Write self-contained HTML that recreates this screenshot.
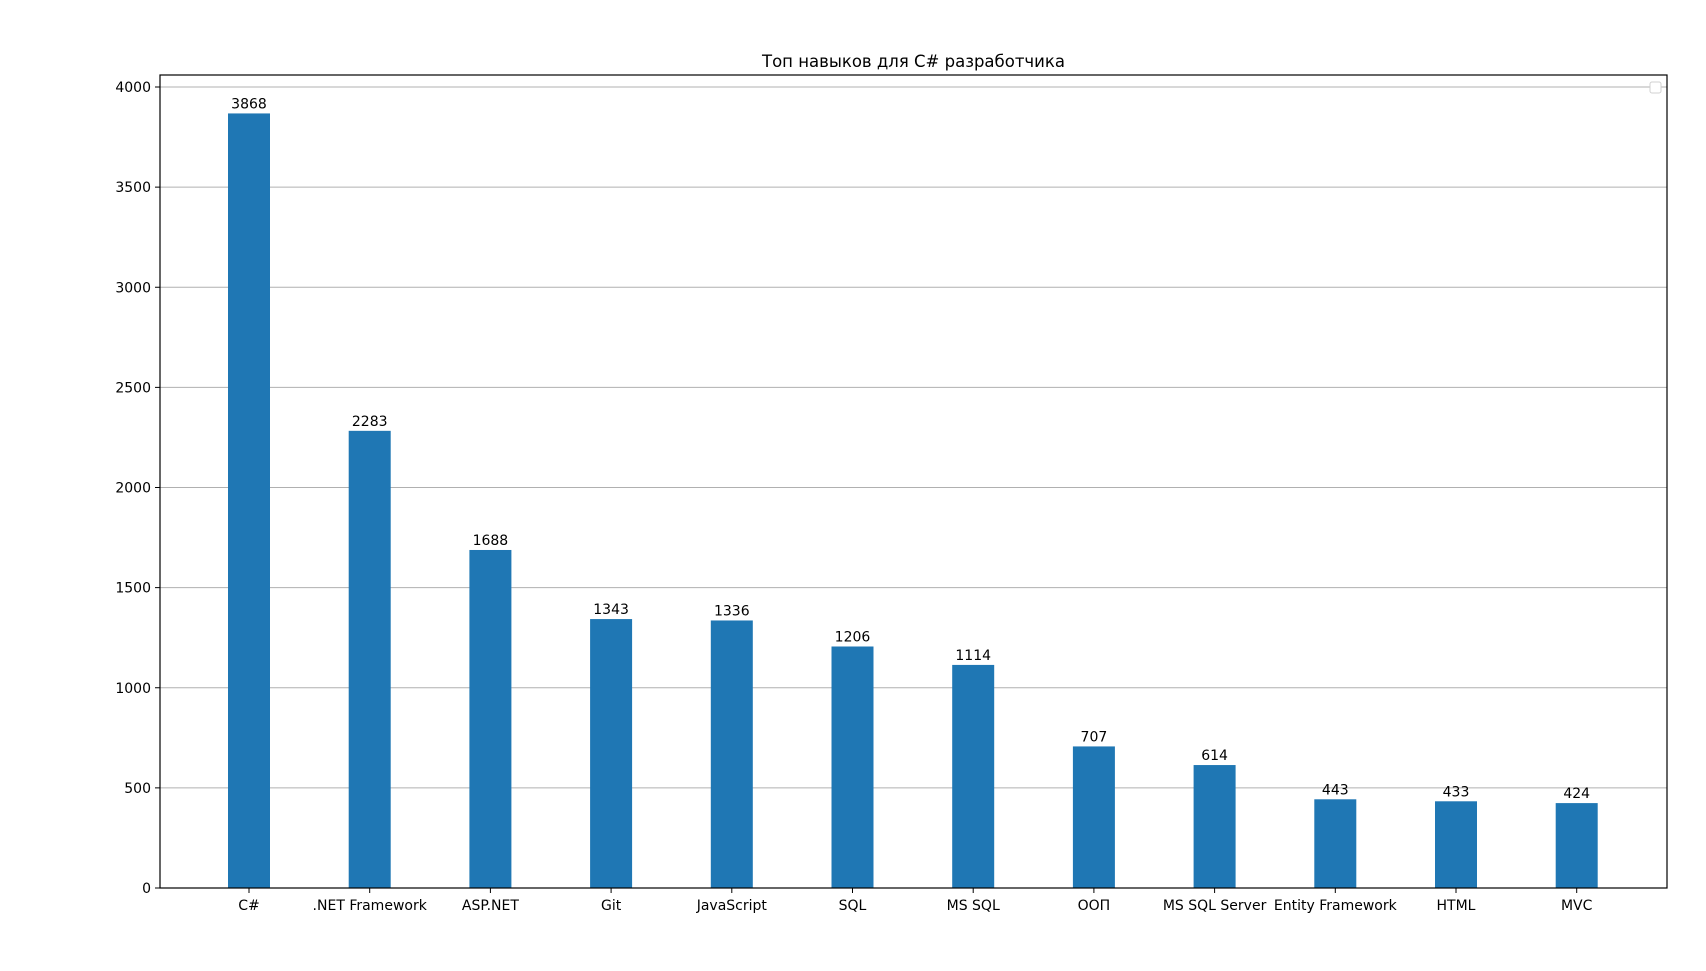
<!DOCTYPE html>
<html><head><meta charset="utf-8"><style>
body{margin:0;background:#fff}
svg text{font-family:"DejaVu Sans","Liberation Sans",sans-serif;fill:#000}
</style></head><body>
<svg id="chart" width="1706" height="966" xmlns="http://www.w3.org/2000/svg">
<rect width="1706" height="966" fill="#fff"/>
<text x="913.5" y="67" font-size="16.5" text-anchor="middle">Топ навыков для C# разработчика</text>
<g id="grid"></g><g id="bars"></g><g id="labels"></g><g id="axes"></g>
</svg>
<script>
const categories=["C#",".NET Framework","ASP.NET","Git","JavaScript","SQL","MS SQL","ООП","MS SQL Server","Entity Framework","HTML","MVC"];
const values=[3868,2283,1688,1343,1336,1206,1114,707,614,443,433,424];
const yTicks=[0,500,1000,1500,2000,2500,3000,3500,4000];
const L=160,R=1667,T=75,B=888;
const y=v=>B-(v/4000)*(B-87);
const x=i=>249+i*120.7;
const NS="http://www.w3.org/2000/svg";
function mk(tag,attrs,parent,txt){const e=document.createElementNS(NS,tag);for(const k in attrs)e.setAttribute(k,attrs[k]);if(txt!==undefined)e.textContent=txt;document.getElementById(parent).appendChild(e);return e;}
yTicks.forEach(t=>{
  if(t>0){const g=mk('line',{x1:L,x2:R,y1:y(t),y2:y(t),stroke:'#b0b0b0','stroke-width':1},'grid');
  
  }
  const tk=mk('line',{x1:L-5,x2:L,y1:y(t),y2:y(t),stroke:'#000'},'axes');
  
  
  const lb=mk('text',{x:L-9,y:y(t)+5,'font-size':14,'text-anchor':'end'},'axes',t);
  
  
});
categories.forEach((c,i)=>{
  const v=values[i];
  const b=mk('rect',{x:x(i)-21,y:y(v),width:42,height:B-y(v),fill:'#1f77b4'},'bars');
  
  
  const vl=mk('text',{x:x(i),y:y(v)-5,'font-size':14,'text-anchor':'middle'},'labels',v);
  
  
  const tk=mk('line',{x1:x(i),x2:x(i),y1:B,y2:B+5,stroke:'#000'},'axes');
  
  
  const xl=mk('text',{x:x(i),y:B+22,'font-size':14,'text-anchor':'middle'},'axes',c);
  
  
});
const fr=mk('rect',{x:L,y:T,width:R-L,height:B-T,fill:'none',stroke:'#000','stroke-width':1.2},'axes');


const lg=mk('rect',{x:1650,y:82,width:11,height:11,rx:2,fill:'#fff',stroke:'#d0d0d0'},'axes');


</script>
</body></html>
